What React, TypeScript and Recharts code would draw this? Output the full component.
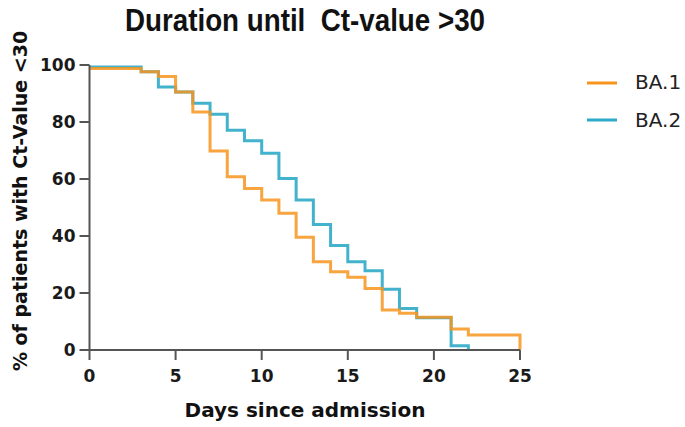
import React from "react";
import { LineChart, Line, XAxis, YAxis } from "recharts";

const ba1Days = [0, 3, 4, 5, 6, 7, 8, 9, 10, 11, 12, 13, 14, 15, 16, 17, 18, 19, 21, 22, 25];
const ba1Pct = [98.8, 97.6, 96, 90.5, 83.5, 69.8, 60.8, 56.7, 52.6, 48, 39.6, 31, 27.5, 25.5, 21.6, 14, 12.9, 11.5, 7.4, 5.3, 0];

const ba2Days = [0, 3, 4, 5, 6, 7, 8, 9, 10, 11, 12, 13, 14, 15, 16, 17, 18, 19, 21, 22];
const ba2Pct = [99.3, 97.6, 92.3, 90.5, 86.6, 82.7, 77.1, 73.4, 69, 60.2, 52.6, 44, 36.7, 31, 27.8, 21.3, 14.6, 11.3, 1.5, 0];

const xTicks = [0, 5, 10, 15, 20, 25];
const yTicks = [0, 20, 40, 60, 80, 100];

const seriesNames = ["BA.1", "BA.2"];
const title = "Duration until\u00a0\u00a0Ct-value >30";
const xLabel = "Days since admission";
const yLabel = "% of patients with Ct-Value <30";

const ORANGE = "#F7941D";
const BLUE = "#2DAAC8";
const AXIS = "#555555";

const ba1 = ba1Days.map((d, i) => ({ day: d, pct: ba1Pct[i] }));
const ba2 = ba2Days.map((d, i) => ({ day: d, pct: ba2Pct[i] }));

const tickStyle = {
  fontFamily: "DejaVu Sans",
  fontWeight: "bold" as const,
  fontSize: 17,
  fill: "#1a1a1a",
};

export default function App() {
  return (
    <div style={{ position: "absolute", left: 0, top: 0, width: 685, height: 427, background: "#fff" }}>
      <LineChart width={685} height={427} margin={{ top: 65, right: 165, bottom: 47, left: 29.5 }}>
        <XAxis
          type="number"
          dataKey="day"
          domain={[0, 25]}
          ticks={xTicks}
          height={30}
          axisLine={{ stroke: AXIS, strokeWidth: 2 }}
          tickLine={{ stroke: AXIS, strokeWidth: 2 }}
          tickSize={10}
          tickMargin={10}
          tick={tickStyle}
          allowDuplicatedCategory={false}
        />
        <YAxis
          type="number"
          domain={[0, 100]}
          ticks={yTicks}
          width={60}
          axisLine={{ stroke: AXIS, strokeWidth: 2 }}
          tickLine={{ stroke: AXIS, strokeWidth: 2 }}
          tickSize={10}
          tickMargin={4}
          tick={tickStyle}
        />
        <Line
          data={ba2}
          dataKey="pct"
          type="stepAfter"
          stroke={BLUE}
          strokeWidth={3}
          strokeOpacity={0.9}
          dot={false}
          activeDot={false}
          isAnimationActive={false}
          name={seriesNames[1]}
        />
        <Line
          data={ba1}
          dataKey="pct"
          type="stepAfter"
          stroke={ORANGE}
          strokeWidth={3}
          strokeOpacity={0.85}
          dot={false}
          activeDot={false}
          isAnimationActive={false}
          name={seriesNames[0]}
        />
      </LineChart>
      <svg width={685} height={427} style={{ position: "absolute", left: 0, top: 0, pointerEvents: "none" }}>
        <text
          x={125}
          y={31}
          textLength={360}
          lengthAdjust="spacingAndGlyphs"
          style={{ fontFamily: "Liberation Sans", fontWeight: "bold", fontSize: 31, fill: "#111" }}
        >
          {title}
        </text>
        <text
          x={305}
          y={417}
          textAnchor="middle"
          style={{ fontFamily: "DejaVu Sans", fontWeight: "bold", fontSize: 20, fill: "#111" }}
        >
          {xLabel}
        </text>
        <text
          x={27}
          y={201}
          textAnchor="middle"
          transform="rotate(-90, 27, 201)"
          style={{ fontFamily: "DejaVu Sans", fontWeight: "bold", fontSize: 19, fill: "#111" }}
        >
          {yLabel}
        </text>
        <line x1={587} y1={83} x2={617} y2={83} stroke={ORANGE} strokeWidth={3} />
        <line x1={587} y1={120} x2={617} y2={120} stroke={BLUE} strokeWidth={3} />
        <text x={635} y={89} style={{ fontFamily: "DejaVu Sans", fontSize: 20, fill: "#222" }}>
          {seriesNames[0]}
        </text>
        <text x={635} y={127} style={{ fontFamily: "DejaVu Sans", fontSize: 20, fill: "#222" }}>
          {seriesNames[1]}
        </text>
      </svg>
    </div>
  );
}
